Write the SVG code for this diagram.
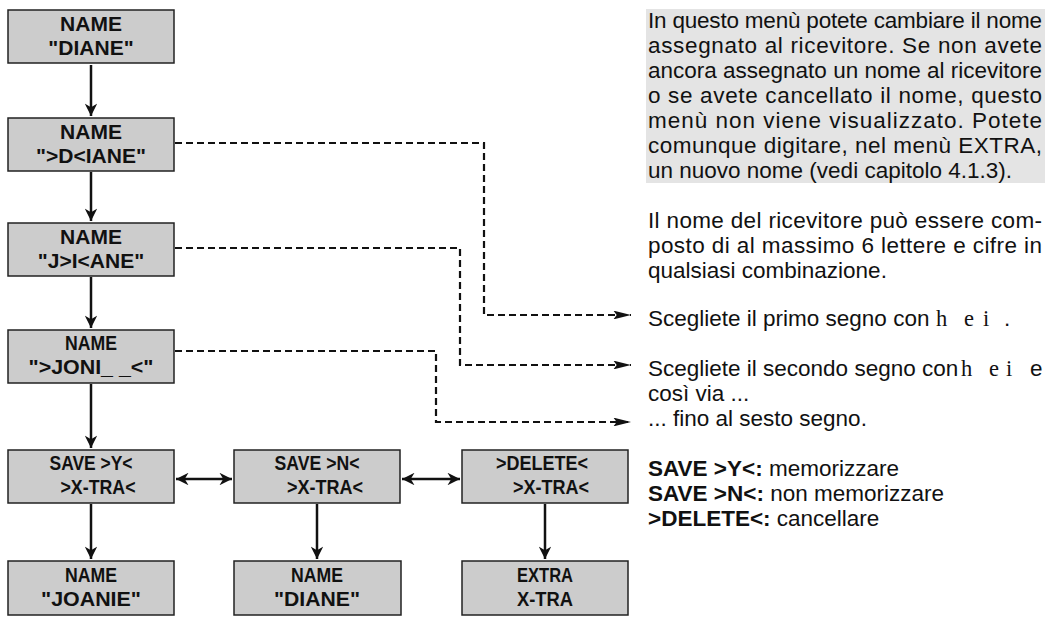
<svg xmlns="http://www.w3.org/2000/svg" width="1049" height="628" viewBox="0 0 1049 628">
<style>
.box{fill:#cccccc;stroke:#222;stroke-width:1.5}
.bt{font-family:"Liberation Sans",Arial,sans-serif;font-weight:bold;font-size:21px;text-anchor:middle;fill:#111}
.ln{stroke:#111;stroke-width:2.5;fill:none}
.da{stroke:#111;stroke-width:2.2;fill:none;stroke-dasharray:7,4}
.tx{font-family:"Liberation Sans",Arial,sans-serif;font-size:22.5px;fill:#111}
.sy{font-family:"Liberation Serif",serif}
</style>
<defs>
<marker id="ah" viewBox="0 0 10 10" refX="10" refY="5" markerWidth="5.5" markerHeight="5" orient="auto-start-reverse"><path d="M0,0 L10,5 L0,10 L3,5z" fill="#111"/></marker>
<marker id="ad" viewBox="0 0 16 8" refX="16" refY="4" markerWidth="8" markerHeight="4" orient="auto"><path d="M0,0 L16,4 L0,8 L3,4z" fill="#111"/></marker>
</defs>
<rect x="646" y="9" width="399" height="174" fill="#e4e4e4"/>
<g id="n1"><rect class="box" x="8" y="10" width="166" height="53"/><text class="bt" x="91" y="31">NAME</text><text class="bt" x="91" y="55">"DIANE"</text></g>
<g id="n2"><rect class="box" x="8" y="118" width="166" height="53"/><text class="bt" x="91" y="139">NAME</text><text class="bt" x="91" y="163">"&gt;D&lt;IANE"</text></g>
<g id="n3"><rect class="box" x="8" y="223" width="166" height="53"/><text class="bt" x="91" y="244">NAME</text><text class="bt" x="91" y="268">"J&gt;I&lt;ANE"</text></g>
<g id="n4"><rect class="box" x="8" y="330" width="166" height="53"/><text class="bt" x="91" y="350" textLength="52" lengthAdjust="spacingAndGlyphs">NAME</text><text class="bt" x="91" y="374" textLength="125" lengthAdjust="spacingAndGlyphs">"&gt;JONI_ _&lt;"</text></g>
<g id="n5"><rect class="box" x="8" y="450" width="166" height="53"/><text class="bt" x="91" y="470" textLength="83" lengthAdjust="spacingAndGlyphs">SAVE &gt;Y&lt;</text><text class="bt" x="98" y="494" textLength="75" lengthAdjust="spacingAndGlyphs">&gt;X-TRA&lt;</text></g>
<g id="n6"><rect class="box" x="234" y="450" width="166" height="53"/><text class="bt" x="317" y="470" textLength="85" lengthAdjust="spacingAndGlyphs">SAVE &gt;N&lt;</text><text class="bt" x="325" y="494" textLength="76" lengthAdjust="spacingAndGlyphs">&gt;X-TRA&lt;</text></g>
<g id="n7"><rect class="box" x="462" y="450" width="166" height="53"/><text class="bt" x="542" y="470" textLength="92" lengthAdjust="spacingAndGlyphs">&gt;DELETE&lt;</text><text class="bt" x="551" y="494" textLength="76" lengthAdjust="spacingAndGlyphs">&gt;X-TRA&lt;</text></g>
<g id="n8"><rect class="box" x="8" y="561" width="166" height="54"/><text class="bt" x="91" y="582" textLength="52" lengthAdjust="spacingAndGlyphs">NAME</text><text class="bt" x="91" y="606" textLength="100" lengthAdjust="spacingAndGlyphs">"JOANIE"</text></g>
<g id="n9"><rect class="box" x="234" y="561" width="167" height="54"/><text class="bt" x="317" y="582" textLength="52" lengthAdjust="spacingAndGlyphs">NAME</text><text class="bt" x="317" y="606" textLength="86" lengthAdjust="spacingAndGlyphs">"DIANE"</text></g>
<g id="n10"><rect class="box" x="462" y="561" width="166" height="54"/><text class="bt" x="545" y="582" textLength="56" lengthAdjust="spacingAndGlyphs">EXTRA</text><text class="bt" x="545" y="606" textLength="56" lengthAdjust="spacingAndGlyphs">X-TRA</text></g>
<g id="connectors">
<path class="ln" d="M91,65 V116" marker-end="url(#ah)"/>
<path class="ln" d="M91,172 V221" marker-end="url(#ah)"/>
<path class="ln" d="M91,277 V328" marker-end="url(#ah)"/>
<path class="ln" d="M91,384 V448" marker-end="url(#ah)"/>
<path class="ln" d="M91,504 V559" marker-end="url(#ah)"/>
<path class="ln" d="M317,504 V559" marker-end="url(#ah)"/>
<path class="ln" d="M545,504 V559" marker-end="url(#ah)"/>
<path class="ln" d="M176,479 H232" marker-start="url(#ah)" marker-end="url(#ah)"/>
<path class="ln" d="M402,479 H460" marker-start="url(#ah)" marker-end="url(#ah)"/>
<path class="da" d="M175,143 H484 V315 H631" marker-end="url(#ad)"/>
<path class="da" d="M175,248 H460 V365 H631" marker-end="url(#ad)"/>
<path class="da" d="M175,351 H436 V422 H631" marker-end="url(#ad)"/>
</g>
<g class="tx">
<text x="648" y="28" textLength="394" lengthAdjust="spacing">In questo menù potete cambiare il nome</text>
<text x="648" y="53" textLength="394" lengthAdjust="spacing">assegnato al ricevitore. Se non avete</text>
<text x="648" y="78" textLength="394" lengthAdjust="spacing">ancora assegnato un nome al ricevitore</text>
<text x="648" y="103" textLength="394" lengthAdjust="spacing">o se avete cancellato il nome, questo</text>
<text x="648" y="128" textLength="394" lengthAdjust="spacing">menù non viene visualizzato. Potete</text>
<text x="648" y="153" textLength="394" lengthAdjust="spacing">comunque digitare, nel menù EXTRA,</text>
<text x="648" y="178">un nuovo nome (vedi capitolo 4.1.3).</text>
<text x="648" y="228" textLength="394" lengthAdjust="spacing">Il nome del ricevitore può essere com-</text>
<text x="648" y="253" textLength="394" lengthAdjust="spacing">posto di al massimo 6 lettere e cifre in</text>
<text x="648" y="278">qualsiasi combinazione.</text>
<text x="648" y="326">Scegliete il primo segno con<tspan class="sy" x="936">h</tspan><tspan class="sy" x="964">e</tspan><tspan class="sy" x="983">i</tspan><tspan x="1004">.</tspan></text>
<text x="648" y="376">Scegliete il secondo segno con<tspan class="sy" x="961">h</tspan><tspan class="sy" x="989">e</tspan><tspan class="sy" x="1006">i</tspan><tspan x="1030">e</tspan></text>
<text x="648" y="401">così via ...</text>
<text x="648" y="426">... fino al sesto segno.</text>
<text x="648" y="476"><tspan font-weight="bold">SAVE &gt;Y&lt;:</tspan> memorizzare</text>
<text x="648" y="501"><tspan font-weight="bold">SAVE &gt;N&lt;:</tspan> non memorizzare</text>
<text x="648" y="526"><tspan font-weight="bold">&gt;DELETE&lt;:</tspan> cancellare</text>
</g>
</svg>
